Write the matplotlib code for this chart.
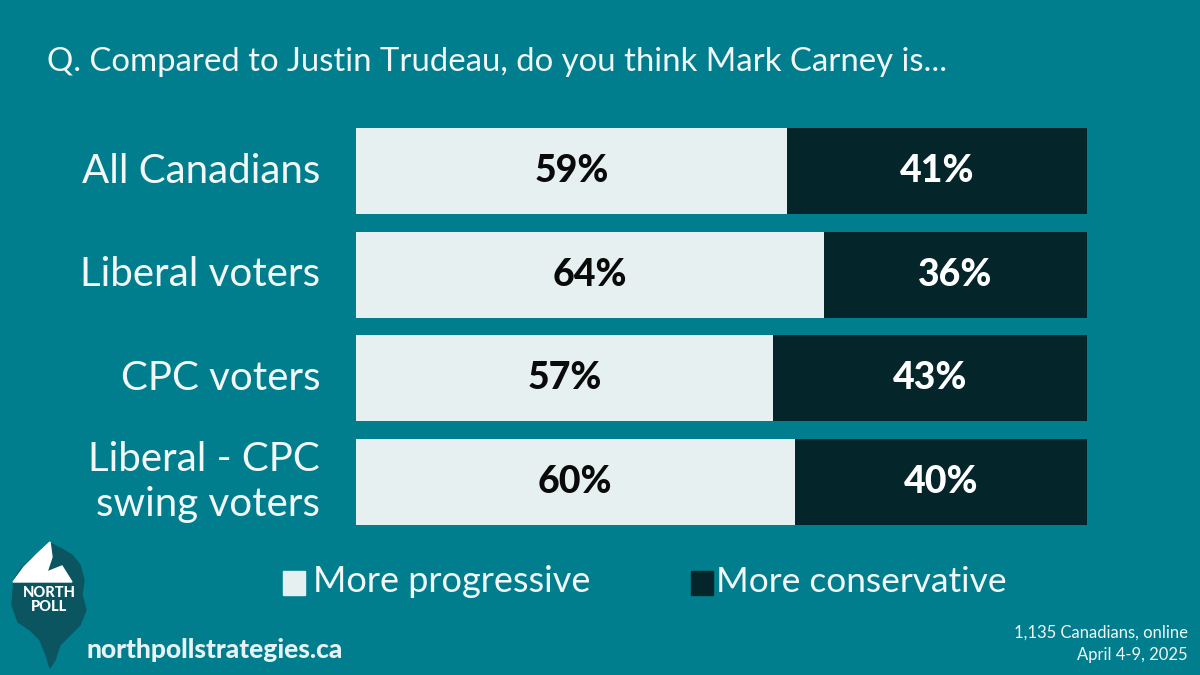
import matplotlib
matplotlib.use("Agg")
import matplotlib.pyplot as plt
from matplotlib.patches import Polygon, Rectangle

# ── Data ──────────────────────────────────────────────────────────────────────
categories = ["All Canadians", "Liberal voters", "CPC voters", "Liberal - CPC\nswing voters"]
progressive = [59, 64, 57, 60]
conservative = [41, 36, 43, 40]
series_names = ["More progressive", "More conservative"]

# ── Style ─────────────────────────────────────────────────────────────────────
bg = "#017E8E"
col_light = "#E6F0F1"
col_dark = "#04252A"
col_text = "#F2F7F8"
plt.rcParams["font.family"] = ["Lato", "DejaVu Sans"]

W, H = 1200, 675
fig = plt.figure(figsize=(12, 6.75), dpi=100, facecolor=bg)

# pixel-space overlay for decorations
ov = fig.add_axes([0, 0, 1, 1])
ov.set_xlim(0, W)
ov.set_ylim(H, 0)
ov.axis("off")
ov.set_zorder(0)

# ── Bars ──────────────────────────────────────────────────────────────────────
left, right, top, bottom = 356, 1087, 128, 525
ax = fig.add_axes([left / W, 1 - bottom / H, (right - left) / W, (bottom - top) / H])
ax.set_facecolor("none")
ax.set_zorder(1)
y = list(range(len(categories)))
bh = 0.83
ax.barh(y, progressive, height=bh, color=col_light)
ax.barh(y, conservative, left=progressive, height=bh, color=col_dark)
ax.set_xlim(0, 100)
ax.set_ylim(len(categories) - 1 + bh / 2, -bh / 2)
ax.axis("off")

for i, (p, c) in enumerate(zip(progressive, conservative)):
    ax.text(p / 2, i, f"{p}%", ha="center", va="center", fontsize=27,
            fontweight="black", color="#0A0A0A")
    ax.text(p + c / 2, i, f"{c}%", ha="center", va="center", fontsize=27,
            fontweight="black", color="white")
    ax.text(-4.9, i, categories[i], ha="right", va="center", fontsize=29,
            color=col_text, linespacing=1.25)

# ── Title ─────────────────────────────────────────────────────────────────────
ov.text(47, 62, "Q. Compared to Justin Trudeau, do you think Mark Carney is...",
        fontsize=23.7, color=col_text, va="center", ha="left")

# ── Legend ────────────────────────────────────────────────────────────────────
ov.add_patch(Rectangle((283, 571), 22, 24, color=col_light))
ov.text(313, 582, series_names[0], fontsize=26, color=col_text, va="center")
ov.add_patch(Rectangle((691, 571), 22, 24, color=col_dark))
ov.text(716, 582, series_names[1], fontsize=25.4, color=col_text, va="center")

# ── Logo ──────────────────────────────────────────────────────────────────────
body = [(50, 543), (60, 548), (72, 555), (80, 565), (84, 580), (82, 595),
        (86, 610), (80, 625), (70, 635), (60, 645), (55, 660), (50, 668),
        (46, 655), (40, 640), (30, 630), (18, 622), (12, 605), (13, 590),
        (14, 580), (20, 570), (32, 558)]
ov.add_patch(Polygon(body, closed=True, color="#0B5561"))
peak = [(13, 582), (72, 582), (62, 566), (47, 572), (52, 557), (50, 542),
        (37, 554), (24, 567)]
ov.add_patch(Polygon(peak, closed=True, color="white"))
ov.text(49, 600, "NORTH\nPOLL", ha="center", va="center", fontsize=10.5,
        fontweight="black", color="white", linespacing=0.95)

# ── Footer ────────────────────────────────────────────────────────────────────
ov.text(87, 650, "northpollstrategies.ca", fontsize=19, fontweight="black",
        color="#E6F2F3", va="center", ha="left")
ov.text(1188, 633, "1,135 Canadians, online", fontsize=12, color=col_text,
        ha="right", va="center")
ov.text(1188, 655, "April 4-9, 2025", fontsize=12, color=col_text,
        ha="right", va="center")

fig.savefig("out.png", dpi=100, facecolor=bg)
